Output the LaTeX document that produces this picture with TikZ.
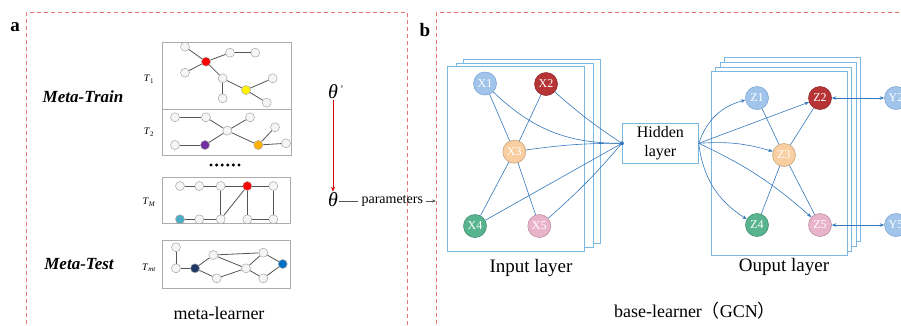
\documentclass[tikz,border=0pt]{standalone}
\usepackage{fontspec}
\setmainfont{Liberation Serif}
\newfontfamily\cjk{Noto Sans CJK SC}
\usetikzlibrary{arrows.meta}

\definecolor{dashred}{RGB}{232,118,118}
\definecolor{graphedge}{RGB}{85,85,85}
\definecolor{gcnblue}{RGB}{52,120,188}
\definecolor{layerblue}{RGB}{122,184,226}
\definecolor{cblue}{RGB}{160,196,234}
\definecolor{cbluedark}{RGB}{126,166,214}
\definecolor{cred}{RGB}{182,52,54}
\definecolor{corange}{RGB}{249,206,160}
\definecolor{cgreen}{RGB}{88,180,142}
\definecolor{cpink}{RGB}{233,180,201}

\tikzset{
	panelbox/.style={draw=dashred, line width=0.8pt, dash pattern=on 4pt off 3pt},
	panellabel/.style={font=\fontsize{19}{19}\selectfont\bfseries},
	phase/.style={font=\fontsize{17}{17}\selectfont\bfseries\itshape},
	taskbox/.style={draw=gray!65, line width=0.8pt},
	tasklabel/.style={font=\fontsize{10}{10}\selectfont},
	gnode/.style={circle, draw=gray!70, minimum size=9pt, inner sep=0pt, line width=0.5pt},
	gedge/.style={draw=graphedge, line width=0.8pt},
	theta/.style={font=\fontsize{20}{20}\selectfont\itshape, inner sep=1pt},
	layerbox/.style={draw=layerblue, fill=white, line width=0.8pt},
	gcn/.style={circle, minimum size=23pt, inner sep=0pt, text=white, font=\fontsize{12}{12}\selectfont, line width=0.6pt},
	gcnline/.style={draw=gcnblue, line width=0.6pt},
	gcnarrow/.style={gcnline, -{Stealth[length=4.5pt,width=3.5pt]}},
	bigtext/.style={font=\fontsize{18}{18}\selectfont}
}

\begin{document}
\begin{tikzpicture}[x=1pt,y=-1pt]
	\useasboundingbox (0,0) rectangle (901,325);

	% panel a
	\draw[panelbox] (26,12) rectangle (407,335);
	\node[panellabel] (labela) at (15,27) {a};
	\node[phase] (train) at (83,97) {Meta-Train};
	\node[phase] (test) at (79,264) {Meta-Test};

	\draw[taskbox] (162,42) rectangle (291,109);
	\draw[taskbox] (162,109) rectangle (291,155);
	\draw[taskbox] (162,177) rectangle (290,223.5);
	\draw[taskbox] (162,240) rectangle (290,288);
	\node[tasklabel] (t1) at (149,79) {\textit{T}\textsubscript{1}};
	\node[tasklabel] (t2) at (149,132) {\textit{T}\textsubscript{2}};
	\node[tasklabel] (tm) at (149,202) {\textit{T}\textsubscript{\textit{M}}};
	\node[tasklabel] (tmt) at (149,268) {\textit{T}\textsubscript{\textit{mt}}};

	% task graphs
	\foreach \n/\x/\y/\c in {a1/185/46.7/gray!8, a2/206/61.7/red, a3/230/52.7/gray!8, a4/255.3/52.7/gray!8,
		a5/185/72.7/gray!8, a6/222.7/78.3/gray!8, a7/246/90/yellow, a8/272.7/78.3/gray!8,
		a9/222.7/98.3/gray!8, a10/266.7/102.7/gray!8}
		\node[gnode, fill=\c] (\n) at (\x,\y) {};
	\foreach \u/\v in {a1/a2,a2/a3,a3/a4,a2/a5,a2/a6,a6/a9,a6/a7,a7/a8,a7/a10}
		\draw[gedge] (\u) -- (\v);

	\foreach \n/\x/\y/\c in {b1/175/117.3/gray!8, b2/206/117.3/gray!8, b3/250/117.3/gray!8, b4/227.3/130.7/gray!8,
		b5/275/127.3/gray!8, b6/175/145/gray!8, b7/205/145/{rgb,255:red,112;green,48;blue,160},
		b8/258.3/145/{rgb,255:red,255;green,176;blue,0}, b9/286/143.3/gray!8}
		\node[gnode, fill=\c] (\n) at (\x,\y) {};
	\foreach \u/\v in {b1/b2,b2/b4,b4/b3,b4/b7,b7/b6,b4/b8,b8/b5,b8/b9}
		\draw[gedge] (\u) -- (\v);

	\foreach \k in {0,...,5}
		\fill (211+5.6*\k,165) circle (1.7);

	\foreach \n/\x/\y/\c in {c1/180/186/gray!8, c2/199.3/186/gray!8, c3/220.7/186/gray!8, c4/247.3/186/red,
		c5/273.3/186/gray!8, c6/180/219.3/{rgb,255:red,75;green,172;blue,198}, c7/199.3/219.3/gray!8,
		c8/220.7/219.3/gray!8, c9/247.3/219.3/gray!8, c10/273.3/219.3/gray!8}
		\node[gnode, fill=\c] (\n) at (\x,\y) {};
	\foreach \u/\v in {c1/c2,c2/c3,c3/c4,c4/c5,c6/c7,c7/c8,c3/c8,c8/c4,c4/c9,c9/c10,c5/c10}
		\draw[gedge] (\u) -- (\v);

	\foreach \n/\x/\y/\c in {d1/176/247.3/gray!8, d2/176/268.3/gray!8, d3/195/268.3/{rgb,255:red,31;green,56;blue,100},
		d4/213.3/255/gray!8, d5/216.7/278.3/gray!8, d6/246/268.3/gray!8, d7/263.3/252.7/gray!8,
		d8/263.3/278.3/gray!8, d9/282.7/264/{rgb,255:red,0;green,112;blue,192}}
		\node[gnode, fill=\c] (\n) at (\x,\y) {};
	\foreach \u/\v in {d1/d2,d2/d3,d3/d4,d3/d5,d4/d7,d4/d6,d5/d6,d6/d7,d6/d8,d7/d9,d8/d9}
		\draw[gedge] (\u) -- (\v);

	\node[bigtext] (metalearner) at (219,313) {meta-learner};

	% theta update
	\node[theta] (thtop) at (333,92) {θ\rlap{\fontsize{10}{10}\selectfont\raisebox{6pt}{\,'}}};
	\node[theta] (thbot) at (333,200) {θ};
	\draw[draw=red!85!black, line width=0.7pt, -{Stealth[length=5pt,width=4pt]}] (thtop.south) -- (thbot.north);
	\node[font=\fontsize{14}{14}\selectfont, anchor=west] (params) at (358,201) {parameters};
	\coordinate (bleft) at (436,201);
	\draw[draw=graphedge, line width=0.6pt] (thbot.east |- bleft) -- (params.west);
	\draw[draw=graphedge, line width=0.6pt, -{Stealth[length=4pt,width=3pt]}] (params.east) -- (bleft);

	% panel b
	\draw[panelbox] (436,12) rectangle (915,335);
	\node[panellabel] (labelb) at (425,30) {b};

	\foreach \dx/\dy in {16/-7.5,9/-3.5,0/0}
		\draw[layerbox, shift={(\dx,\dy)}] (447,66.7) rectangle (584,251);
	\node[gcn, fill=cblue, draw=cbluedark] (x1) at (485,83.5) {X1};
	\node[gcn, fill=cred, draw=cred!80!black] (x2) at (546,84) {X2};
	\node[gcn, fill=corange, draw=corange!80!black] (x3) at (514.3,151.7) {X3};
	\node[gcn, fill=cgreen, draw=cgreen!80!black] (x4) at (475,226) {X4};
	\node[gcn, fill=cpink, draw=cpink!80!black] (x5) at (539.3,226) {X5};
	\foreach \u/\v in {x1/x3,x2/x3,x3/x4,x3/x5}
		\draw[gcnline] (\u) -- (\v);

	\node[draw=layerblue, line width=0.8pt, minimum width=76pt, minimum height=40pt, align=center,
		font=\fontsize{16}{19}\selectfont] (hidden) at (660.3,143.3) {Hidden\\layer};
	\draw[gcnline] (x1) to[bend right=22] (hidden.west);
	\draw[gcnline] (x2) to[bend right=4] (hidden.west);
	\draw[gcnline] (x3) to[bend left=4] (hidden.west);
	\draw[gcnline] (x4) -- (hidden.west);
	\draw[gcnline] (x5) to[bend right=4] (hidden.west);
	\fill[gcnblue] (hidden.west) circle (2);

	\foreach \dx/\dy in {13.5/-14,9/-8.7,4.5/-4.2,0/0}
		\draw[layerbox, shift={(\dx,\dy)}] (711,71.5) rectangle (847,255.5);
	\node[gcn, fill=cblue, draw=cbluedark] (z1) at (757,98) {Z1};
	\node[gcn, fill=cred, draw=cred!80!black] (z2) at (820,98) {Z2};
	\node[gcn, fill=corange, draw=corange!80!black] (z3) at (784,155) {Z3};
	\node[gcn, fill=cgreen, draw=cgreen!80!black] (z4) at (757,225) {Z4};
	\node[gcn, fill=cpink, draw=cpink!80!black] (z5) at (820,225) {Z5};
	\foreach \u/\v in {z1/z3,z2/z3,z3/z4,z3/z5}
		\draw[gcnline] (\u) -- (\v);
	\draw[gcnarrow] (hidden.east) to[bend left=28] (z1);
	\draw[gcnarrow] (hidden.east) -- (z2);
	\draw[gcnarrow] (hidden.east) to[bend left=10] (z3);
	\draw[gcnarrow] (hidden.east) to[bend right=25] (z4);
	\draw[gcnarrow] (hidden.east) to[bend left=8] (z5);

	\node[gcn, fill=cblue, draw=cbluedark] (y2) at (896,98) {Y2};
	\node[gcn, fill=cblue, draw=cbluedark] (y5) at (896,225) {Y5};
	\draw[gcnline, {Stealth[length=4.5pt,width=3.5pt]}-{Stealth[length=4.5pt,width=3.5pt]}] (z2) -- (y2);
	\draw[gcnline, {Stealth[length=4.5pt,width=3.5pt]}-{Stealth[length=4.5pt,width=3.5pt]}] (z5) -- (y5);

	\node[font=\fontsize{19}{19}\selectfont] (inlabel) at (531,268) {Input layer};
	\node[font=\fontsize{19}{19}\selectfont] (outlabel) at (784,267) {Ouput layer};
	\node[bigtext] (baselabel) at (695,311) {base-learner{\cjk （}GCN{\cjk ）}};
\end{tikzpicture}
\end{document}
